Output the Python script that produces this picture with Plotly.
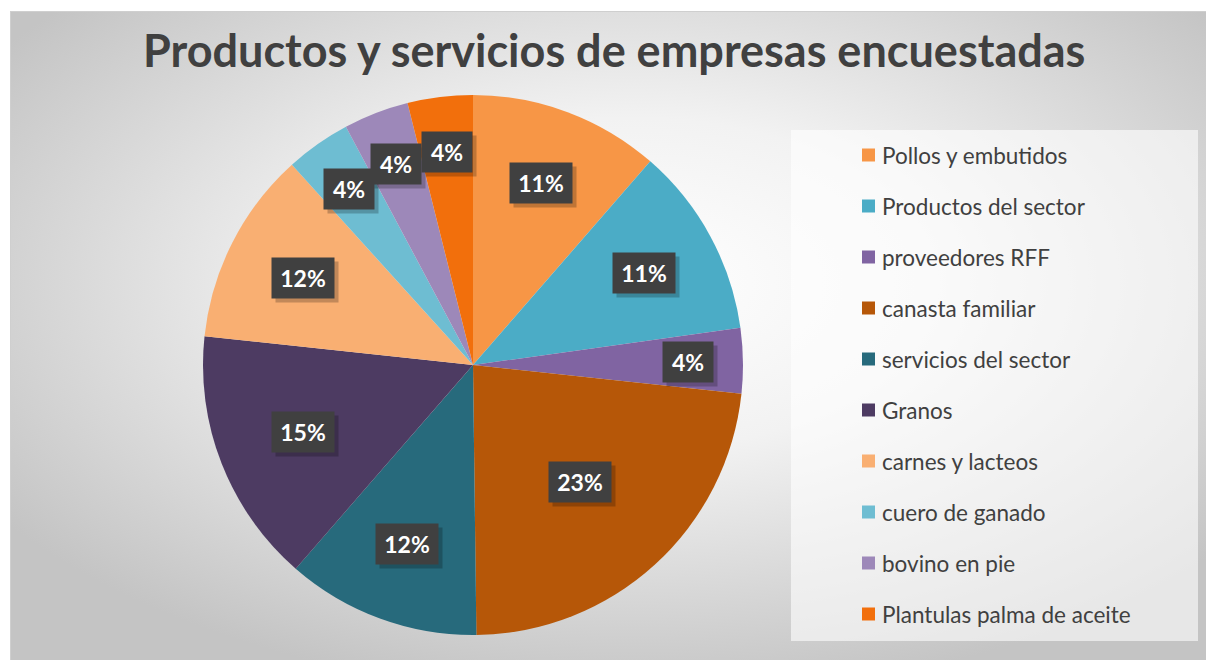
import base64
import math
import plotly.graph_objects as go

# ---- data ----
categories = ["Pollos y embutidos", "Productos del sector", "proveedores RFF",
              "canasta familiar", "servicios del sector", "Granos",
              "carnes y lacteos", "cuero de ganado", "bovino en pie",
              "Plantulas palma de aceite"]
values = [11.4, 11.4, 3.9, 23.1, 11.6, 15.3, 11.6, 3.9, 3.9, 3.9]
colors = ["#F79646", "#4BACC6", "#8064A2", "#B65708", "#276A7C",
          "#4D3B62", "#F9AF72", "#6EBDD2", "#9D88B9", "#F26F0C"]
title_text = "Productos y servicios de empresas encuestadas"

W, H = 1206, 660
CX, CY, R = 473, 365, 270  # pie centre / radius in pixels

def px(x):
    return x / W

def py(y):
    return 1 - y / H

# ---- background (radial gradient chart area) ----
svg = f"""<svg xmlns='http://www.w3.org/2000/svg' width='{W}' height='{H}' viewBox='0 0 {W} {H}'>
<defs><radialGradient id='g' cx='52%' cy='42%' r='64%'>
<stop offset='0' stop-color='#ffffff'/><stop offset='0.4' stop-color='#f2f2f2'/>
<stop offset='1' stop-color='#c4c4c4'/></radialGradient></defs>
<rect x='0' y='0' width='{W}' height='{H}' fill='#ffffff'/>
<rect x='10.5' y='11.5' width='{W - 10}' height='{H - 11}' fill='url(#g)' stroke='#cfcfcf' stroke-width='1'/>
</svg>"""
bg_uri = "data:image/svg+xml;base64," + base64.b64encode(svg.encode()).decode()

fig = go.Figure()
fig.add_trace(go.Pie(
    labels=categories, values=values, sort=False, direction="clockwise",
    rotation=0, marker=dict(colors=colors, line=dict(width=0)),
    textinfo="none", hoverinfo="label+percent", showlegend=False,
    domain=dict(x=[px(CX - R), px(CX + R)], y=[py(CY + R), py(CY - R)]),
))

annotations = []
shapes = []

# ---- data labels in dark boxes ----
total = sum(values)
cum = 0
for v in values:
    mid = (cum + v / 2) / total * 2 * math.pi
    cum += v
    pct = round(v / total * 100)
    frac = 0.84 - 0.011 * pct
    lx = CX + R * frac * math.sin(mid)
    ly = CY - R * frac * math.cos(mid)
    common = dict(xref="paper", yref="paper", x=px(lx), y=py(ly),
                  showarrow=False, width=48 if pct >= 10 else 36, height=26,
                  borderpad=7, xanchor="center", yanchor="middle")
    annotations.append(dict(text="", bgcolor="rgba(0,0,0,0.22)",
                            xshift=4, yshift=-4, **common))
    annotations.append(dict(text=f"<b>{pct}%</b>", bgcolor="#404040",
                            font=dict(family="Lato", size=23, color="#ffffff"),
                            **common))

# ---- custom legend ----
shapes.append(dict(type="rect", xref="paper", yref="paper",
                   x0=px(791), x1=px(1198), y0=py(641), y1=py(130),
                   fillcolor="rgba(255,255,255,0.6)", line=dict(width=0),
                   layer="below"))
for i, (name, col) in enumerate(zip(categories, colors)):
    yc = 155 + 51 * i
    shapes.append(dict(type="rect", xref="paper", yref="paper",
                       x0=px(862), x1=px(875), y0=py(yc + 6.5), y1=py(yc - 6.5),
                       fillcolor=col, line=dict(width=0)))
    annotations.append(dict(text=name, xref="paper", yref="paper",
                            x=px(880), y=py(yc), xanchor="left", yanchor="middle",
                            showarrow=False,
                            font=dict(family="Lato", size=22.5, color="#404040")))

# ---- title ----
annotations.append(dict(text=f"<b>{title_text}</b>", xref="paper", yref="paper",
                        x=px(614), y=py(50), xanchor="center", yanchor="middle",
                        showarrow=False,
                        font=dict(family="Lato", size=45, color="#404040")))

fig.update_layout(
    width=W, height=H, margin=dict(l=0, r=0, t=0, b=0),
    paper_bgcolor="#ffffff", plot_bgcolor="#ffffff",
    images=[dict(source=bg_uri, xref="paper", yref="paper", x=0, y=1,
                 sizex=1, sizey=1, sizing="stretch", layer="below",
                 xanchor="left", yanchor="top")],
    annotations=annotations, shapes=shapes,
)

fig.write_html("out.html", config={"displayModeBar": False},
               post_script="document.body.style.margin='0';"
                           "document.body.style.overflow='hidden';")
